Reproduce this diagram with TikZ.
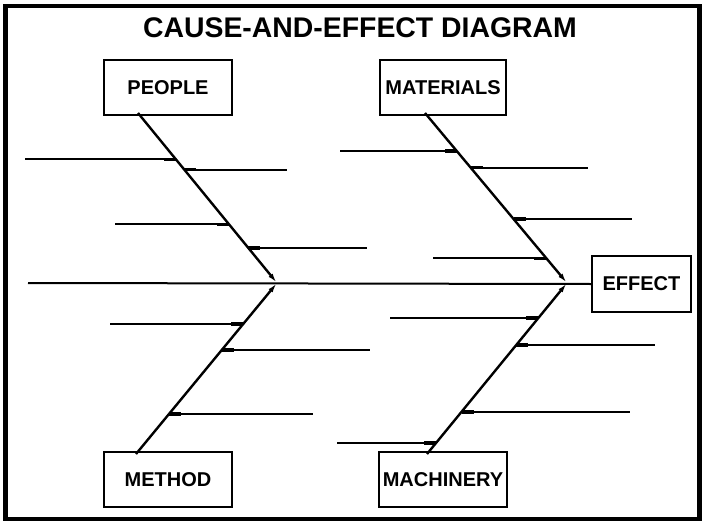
\documentclass[tikz,border=0pt]{standalone}
\usepackage{fontspec}
\setmainfont{Liberation Sans}
\usetikzlibrary{arrows.meta,calc}
\begin{document}
\begin{tikzpicture}[x=1pt,y=-1pt,
  catbox/.style={draw,line width=2pt,minimum width=128pt,minimum height=55pt,
    inner sep=0pt,font=\fontsize{20}{24}\selectfont\bfseries},
  bone/.style={line width=2.4pt,-{Latex[length=10pt,width=5pt]}},
  rib/.style={line width=2pt},
  ribend/.style={line width=3.6pt,line cap=butt},
  spine/.style={line width=2pt}]
  \useasboundingbox (0,0) rectangle (706,524);
  % frame
  \draw[line width=4.5pt] (5.5,6) rectangle (699.5,519);
  % title
  \node[font=\fontsize{28.4}{32}\selectfont\bfseries] (title) at (360,28) {CAUSE-AND-EFFECT DIAGRAM};
  % category boxes
  \node[catbox] (people)    at (168,87.5)  {PEOPLE};
  \node[catbox,minimum width=126pt] (materials) at (443,87.5)  {MATERIALS};
  \node[catbox] (method)    at (168,479.5) {METHOD};
  \node[catbox] (machinery) at (443,479.5) {MACHINERY};
  \node[catbox,minimum width=99pt,minimum height=56pt] (effect) at (641.5,284) {EFFECT};
  % junctions on the spine
  \coordinate (j1) at (277,283);
  \coordinate (j2) at (567,283);
  \coordinate (tail) at (28,283);
  \coordinate (pA) at ([xshift=-30pt,yshift=3pt]people.south);
  \coordinate (mA) at ([xshift=-18pt,yshift=3pt]materials.south);
  \coordinate (meB) at ([xshift=-32pt,yshift=-3pt]method.north);
  \coordinate (maB) at ([xshift=-16pt,yshift=-3pt]machinery.north);
  % spine
  \draw[spine] (tail) -- (effect.west);
  % main bones
  \draw[bone] (pA) -- (j1);
  \draw[bone] (mA) -- (j2);
  \draw[bone] (meB) -- (j1);
  \draw[bone] (maB) -- (j2);
  % ribs: bone start / bone end / position along bone / horizontal length
  \foreach \s/\e/\t/\d in {
      pA/j1/0.273/-151, pA/j1/0.655/-114, pA/j1/0.333/103, pA/j1/0.794/119,
      mA/j2/0.224/-117, mA/j2/0.321/117, mA/j2/0.624/118, mA/j2/0.855/-113,
      j1/meB/0.241/-133, j1/meB/0.392/148, j1/meB/0.765/144,
      j2/maB/0.205/-148, j2/maB/0.361/139, j2/maB/0.753/168, j2/maB/0.934/-99} {
    \coordinate (r) at ($(\s)!\t!(\e)$);
    \draw[rib] (r) -- ++(\d,0);
    \draw[ribend] (r) -- ++({sign(\d)*12},0);
  }
\end{tikzpicture}
\end{document}
